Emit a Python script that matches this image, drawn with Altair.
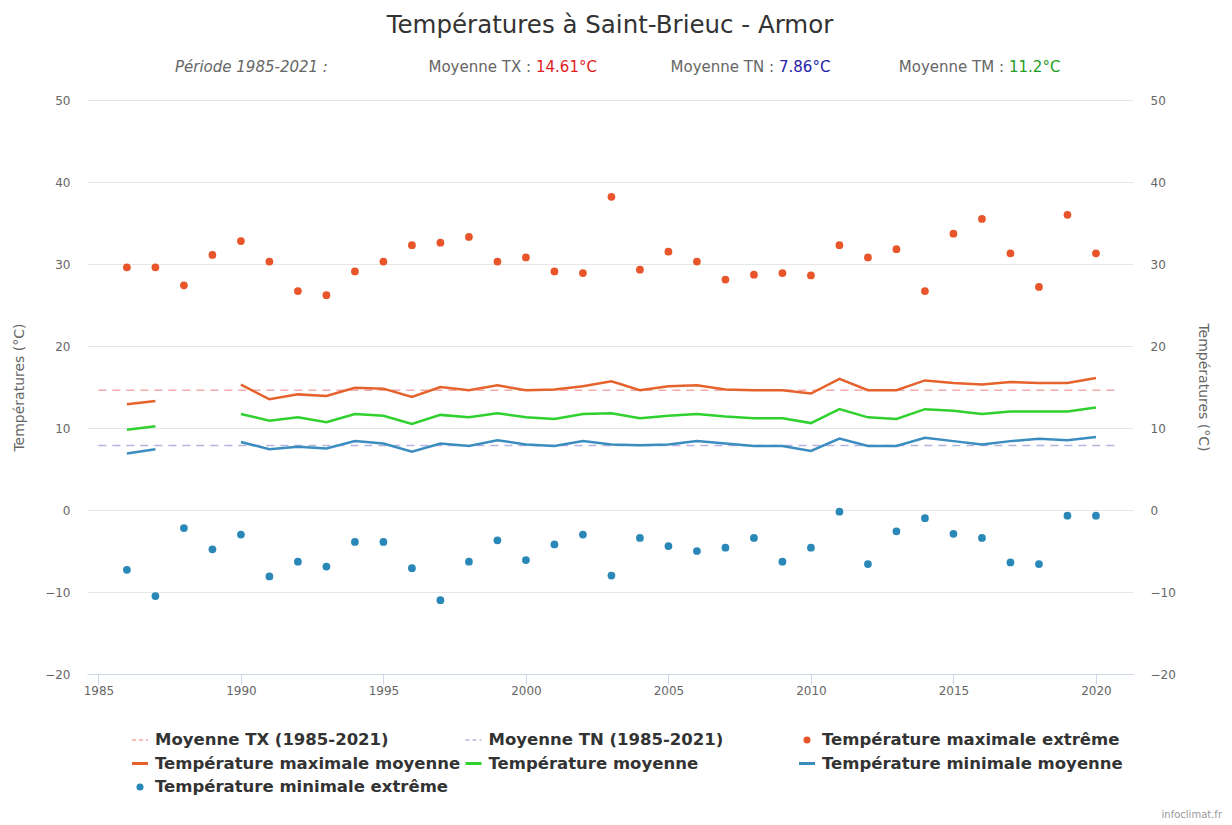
import altair as alt
import pandas as pd

# ---------------- data ----------------
YEARS = list(range(1986, 2021))
TX_EXT = [29.6, 29.6, 27.4, 31.1, 32.8, 30.3, 26.7, 26.2, 29.1, 30.3, 32.3, 32.6,
          33.3, 30.3, 30.8, 29.1, 28.9, 38.2, 29.3, 31.5, 30.3, 28.1, 28.7, 28.9,
          28.6, 32.3, 30.8, 31.8, 26.7, 33.7, 35.5, 31.3, 27.2, 36.0, 31.3]
TN_EXT = [-7.3, -10.5, -2.2, -4.8, -3.0, -8.1, -6.3, -6.9, -3.9, -3.9, -7.1, -11.0,
          -6.3, -3.7, -6.1, -4.2, -3.0, -8.0, -3.4, -4.4, -5.0, -4.6, -3.4, -6.3,
          -4.6, -0.2, -6.6, -2.6, -1.0, -2.9, -3.4, -6.4, -6.6, -0.7, -0.7]
TX_MOY = [12.9, 13.3, None, None, 15.3, 13.5, 14.1, 13.9, 14.9, 14.8, 13.8, 15.0,
          14.6, 15.2, 14.6, 14.7, 15.1, 15.7, 14.6, 15.1, 15.2, 14.7, 14.6, 14.6,
          14.2, 16.0, 14.6, 14.6, 15.8, 15.5, 15.3, 15.6, 15.5, 15.5, 16.1]
TM_MOY = [9.8, 10.2, None, None, 11.7, 10.9, 11.3, 10.7, 11.7, 11.5, 10.5, 11.6,
          11.3, 11.8, 11.3, 11.1, 11.7, 11.8, 11.2, 11.5, 11.7, 11.4, 11.2, 11.2,
          10.6, 12.3, 11.3, 11.1, 12.3, 12.1, 11.7, 12.0, 12.0, 12.0, 12.5]
TN_MOY = [6.9, 7.4, None, None, 8.3, 7.4, 7.7, 7.5, 8.4, 8.1, 7.1, 8.1,
          7.8, 8.5, 8.0, 7.8, 8.4, 8.0, 7.9, 8.0, 8.4, 8.1, 7.8, 7.8,
          7.2, 8.7, 7.8, 7.8, 8.8, 8.4, 8.0, 8.4, 8.7, 8.5, 8.9]
MOY_TX = 14.61
MOY_TN = 7.86
MOY_TM = 11.2
PERIOD = (1985, 2021)
X_TICKS = [1985, 1990, 1995, 2000, 2005, 2010, 2015, 2020]
Y_TICKS = [-20, -10, 0, 10, 20, 30, 40, 50]

SERIES = ["Moyenne TX (1985-2021)", "Moyenne TN (1985-2021)",
          "Température maximale extrême", "Température maximale moyenne",
          "Température moyenne", "Température minimale moyenne",
          "Température minimale extrême"]
KINDS = ["dash", "dash", "dot", "line", "line", "line", "dot"]
COLORS = ["#f2aaaa", "#b4b4dc", "#e8552a", "#e5622c", "#2fd12f", "#3b8dc0", "#2a88b8"]

# ---------------- tables ----------------
line_rows = []
for name, vals in [(SERIES[3], TX_MOY), (SERIES[4], TM_MOY), (SERIES[5], TN_MOY)]:
    seg = 0
    for yr, v in zip(YEARS, vals):
        if v is None:
            seg += 1
            continue
        line_rows.append({"annee": yr, "valeur": v, "serie": name, "seg": seg})
df_lines = pd.DataFrame(line_rows)

pt_rows = []
for name, vals in [(SERIES[2], TX_EXT), (SERIES[6], TN_EXT)]:
    for yr, v in zip(YEARS, vals):
        pt_rows.append({"annee": yr, "valeur": v, "serie": name})
df_pts = pd.DataFrame(pt_rows)

dash_rows = []
for name, v in [(SERIES[0], MOY_TX), (SERIES[1], MOY_TN)]:
    for yr in (PERIOD[0], PERIOD[1] - 0.25):
        dash_rows.append({"annee": yr, "valeur": v, "serie": name})
df_dash = pd.DataFrame(dash_rows)

df_leg = pd.DataFrame({"serie": SERIES, "kind": KINDS, "idx": list(range(len(SERIES)))})

# ---------------- scales / guides ----------------
FONT = "DejaVu Sans"
xscale = alt.Scale(domain=[1984.6, 2021.3], nice=False, zero=False)
yscale = alt.Scale(domain=[-20, 50], nice=False, zero=False)
cscale = alt.Scale(domain=SERIES, range=COLORS)

x_enc = alt.X("annee:Q", scale=xscale, axis=alt.Axis(
    values=X_TICKS, format="d", title=None, grid=False, labelFont=FONT,
    labelFontSize=12, labelColor="#666", domainColor="#ccd6eb", tickColor="#ccd6eb",
    tickSize=10, labelPadding=1, labelFlush=False))

y_left = alt.Axis(values=Y_TICKS, title="Températures (°C)", titleFont=FONT,
                  titleFontSize=14, titleFontWeight="normal", titleColor="#666",
                  titlePadding=18, labelFont=FONT, labelFontSize=12, labelColor="#666",
                  labelPadding=17, ticks=False, tickSize=0, domain=False,
                  gridColor="#e6e6e6", gridWidth=1)
y_right = alt.Axis(values=Y_TICKS, orient="right", title="Températures (°C)",
                   titleFont=FONT, titleFontSize=14, titleFontWeight="normal",
                   titleColor="#666", titlePadding=20, labelFont=FONT, labelFontSize=12,
                   labelColor="#666", labelPadding=17, ticks=False, tickSize=0,
                   domain=False, grid=False)

color_enc = alt.Color("serie:N", scale=cscale, legend=None)

# ---------------- marks ----------------
lines = alt.Chart(df_lines).mark_line(strokeWidth=2.5).encode(
    x=x_enc, y=alt.Y("valeur:Q", scale=yscale, axis=y_left),
    color=color_enc, detail="seg:N")

dashed = alt.Chart(df_dash).mark_line(strokeWidth=1.5, strokeDash=[8, 6]).encode(
    x=x_enc, y=alt.Y("valeur:Q", scale=yscale, axis=y_left), color=color_enc)

points = alt.Chart(df_pts).mark_point(filled=True, size=60, opacity=1).encode(
    x=x_enc, y=alt.Y("valeur:Q", scale=yscale, axis=y_left), color=color_enc)

inner = alt.layer(dashed, lines, points)

right = alt.Chart(df_dash).mark_line(opacity=0).encode(
    x=x_enc, y=alt.Y("valeur:Q", scale=yscale, axis=y_right))

# ---------------- legend (3 columns grid) ----------------
leg_base = alt.Chart(df_leg).transform_calculate(
    tx="68 + (datum.idx % 3) * 333.5",
    py="640 + floor(datum.idx / 3) * 23.5",
    sx="datum.tx - 23",
    sx2="datum.tx - 7",
    cx="datum.tx - 15",
)
px = lambda f: alt.X(f"{f}:Q", scale=None)
py = alt.Y("py:Q", scale=None)

leg_line = leg_base.transform_filter("datum.kind == 'line'").mark_rule(strokeWidth=3).encode(
    x=px("sx"), x2="sx2:Q", y=py, color=color_enc)
leg_dash = leg_base.transform_filter("datum.kind == 'dash'").mark_rule(
    strokeWidth=1.5, strokeDash=[4, 3]).encode(x=px("sx"), x2="sx2:Q", y=py, color=color_enc)
leg_dot = leg_base.transform_filter("datum.kind == 'dot'").mark_circle(size=50, opacity=1).encode(
    x=px("cx"), y=py, color=color_enc)
leg_text = leg_base.mark_text(align="left", baseline="middle", font=FONT, fontSize=16.5,
                              fontWeight="bold", color="#333").encode(
    x=px("tx"), y=py, text="serie:N")


def label(txt, x, y, color="#666", size=15, style="normal", align="left"):
    return alt.Chart(pd.DataFrame({"t": [txt]})).mark_text(
        align=align, baseline="middle", font=FONT, fontSize=size, fontStyle=style,
        color=color).encode(text="t:N", x=alt.value(x), y=alt.value(y))


texts = [
    label(f"Période {PERIOD[0]}-{PERIOD[1]} :", 88, -33, style="italic"),
    label("Moyenne TX :", 444, -33, align="right"),
    label(f"{MOY_TX:.2f}°C", 449, -33, color="#dd1c1c"),
    label("Moyenne TN :", 687, -33, align="right"),
    label(f"{MOY_TN:.2f}°C", 692, -33, color="#2323a8"),
    label("Moyenne TM :", 917, -33, align="right"),
    label(f"{MOY_TM}°C", 922, -33, color="#1e9e1e"),
    label("infoclimat.fr", 1135, 715, color="#999", size=10, align="right"),
]

chart = alt.layer(inner, right, leg_dash, leg_line, leg_dot, leg_text, *texts).resolve_scale(
    y="independent").properties(
    width=1046, height=574,
    autosize=alt.AutoSizeParams(type="none"),
    padding={"left": 79, "top": 92, "right": 90, "bottom": 150},
    background="white",
    title=alt.Title("Températures à Saint-Brieuc - Armor", font=FONT, fontSize=24.5,
                    fontWeight="normal", color="#333", anchor="middle", frame="group",
                    offset=22),
).configure_view(stroke=None)

chart.save("out.html", embed_options={"renderer": "svg", "actions": False})
